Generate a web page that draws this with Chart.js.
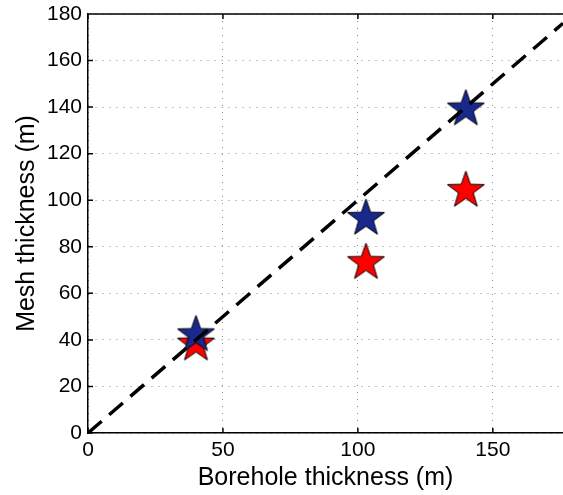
<!DOCTYPE html>
<html>
<head>
<meta charset="utf-8">
<script src="https://cdn.jsdelivr.net/npm/chart.js@4/dist/chart.umd.min.js"></script>
<style>
  html, body { margin: 0; padding: 0; background: #fff; }
  #chart { display: block; }
</style>
</head>
<body>
<canvas id="chart" width="563" height="495"></canvas>
<script>
/* ===== data ===== */
const boreholeX = [40, 103, 140];
const meshBlue = [43, 93, 140];
const meshRed = [39, 74, 105];
const lineX = [0, 176];
const xTicks = [0, 50, 100, 150];
const yTicks = [0, 20, 40, 60, 80, 100, 120, 140, 160, 180];

/* ===== star marker ===== */
function makeStar(color, r) {
  const c = document.createElement("canvas");
  const s = Math.ceil(r * 2 + 4);
  c.width = s; c.height = s;
  const g = c.getContext("2d");
  const cx = s / 2, cy = s / 2 + r * 0.1;
  g.beginPath();
  for (let i = 0; i < 10; i++) {
    const rad = i % 2 === 0 ? r : r * 0.4;
    const a = -Math.PI / 2 + i * Math.PI / 5;
    const px = cx + rad * Math.cos(a), py = cy + rad * Math.sin(a);
    i === 0 ? g.moveTo(px, py) : g.lineTo(px, py);
  }
  g.closePath();
  g.fillStyle = color;
  g.fill();
  g.lineWidth = 1;
  g.strokeStyle = "#000";
  g.stroke();
  return c;
}

const toPts = (xs, ys) => xs.map((x, i) => ({ x, y: ys[i] }));

/* ===== frame + inward ticks ===== */
const frame = {
  id: "frame",
  afterDraw(chart) {
    const { ctx, chartArea: a, scales: { x, y } } = chart;
    ctx.save();
    ctx.strokeStyle = "#000";
    ctx.lineWidth = 1.5;
    ctx.beginPath();
    ctx.moveTo(a.left, a.top); ctx.lineTo(a.right, a.top);
    xTicks.forEach(v => {
      const px = x.getPixelForValue(v);
      ctx.moveTo(px, a.bottom); ctx.lineTo(px, a.bottom - 5);
      ctx.moveTo(px, a.top); ctx.lineTo(px, a.top + 5);
    });
    yTicks.forEach(v => {
      const py = y.getPixelForValue(v);
      ctx.moveTo(a.left, py); ctx.lineTo(a.left + 5, py);
    });
    ctx.stroke();
    ctx.restore();
  }
};

const font = "'Liberation Sans', Arial, Helvetica, sans-serif";

new Chart(document.getElementById("chart"), {
  type: "scatter",
  data: {
    datasets: [
      {
        type: "line",
        data: toPts(lineX, lineX),
        borderColor: "#000",
        borderWidth: 3.5,
        borderDash: [18, 10],
        pointRadius: 0,
        fill: false,
        order: 0
      },
      {
        data: toPts(boreholeX, meshBlue),
        pointStyle: makeStar("#18288c", 19.5),
        pointRadius: 19,
        order: 1
      },
      {
        data: toPts(boreholeX, meshRed),
        pointStyle: makeStar("#ff0000", 19.5),
        pointRadius: 19,
        order: 2
      }
    ]
  },
  options: {
    responsive: false,
    devicePixelRatio: 1,
    animation: false,
    layout: { autoPadding: false, padding: { top: 14, left: 0, right: 0, bottom: 0 } },
    plugins: { legend: { display: false }, tooltip: { enabled: false } },
    scales: {
      x: {
        type: "linear",
        min: 0,
        max: 176,
        afterBuildTicks: s => { s.ticks = xTicks.map(v => ({ value: v })); },
        afterFit: s => { s.height = 62; s.paddingLeft = 0; s.paddingRight = 0; },
        grid: { color: "#8a8a8a", lineWidth: 1, drawTicks: false },
        border: { color: "#000", width: 1.5, dash: [1, 6] },
        ticks: { color: "#000", padding: 5, maxRotation: 0, font: { family: font, size: 21 } },
        title: {
          display: true,
          text: "Borehole thickness (m)",
          color: "#000",
          font: { family: font, size: 25 },
          padding: { top: 0, bottom: 2 }
        }
      },
      y: {
        type: "linear",
        min: 0,
        max: 180,
        afterBuildTicks: s => { s.ticks = yTicks.map(v => ({ value: v })); },
        afterFit: s => { s.width = 88; s.paddingTop = 0; s.paddingBottom = 0; },
        grid: { color: "#8a8a8a", lineWidth: 1, drawTicks: false },
        border: { color: "#000", width: 1.5, dash: [1, 6] },
        ticks: { color: "#000", padding: 6, font: { family: font, size: 21 } },
        title: {
          display: true,
          text: "Mesh thickness (m)",
          color: "#000",
          font: { family: font, size: 25 },
          padding: { top: 12, bottom: 0 }
        }
      }
    }
  },
  plugins: [frame]
});
</script>
</body>
</html>
